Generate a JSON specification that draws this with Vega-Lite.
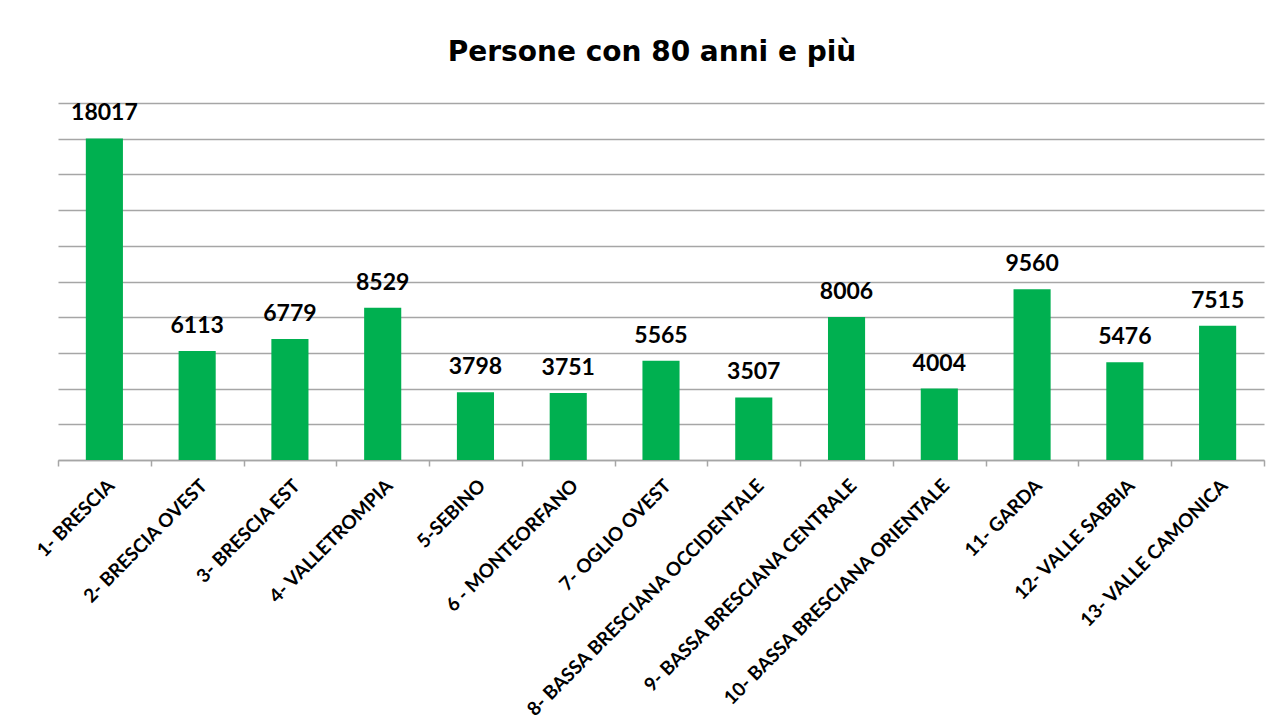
{
  "$schema": "https://vega.github.io/schema/vega-lite/v6.json",
  "autosize": {"type": "none"},
  "width": 1206,
  "height": 357,
  "padding": {"left": 58, "top": 103, "right": 18, "bottom": 264},
  "background": "white",
  "title": {
    "text": "Persone con 80 anni e più",
    "font": "DejaVu Sans",
    "fontSize": 28,
    "fontWeight": "bold",
    "color": "#000000",
    "anchor": "middle",
    "dx": -9,
    "offset": 35
  },
  "data": {
    "values": [
      {"zona": "1- BRESCIA", "valore": 18017},
      {"zona": "2- BRESCIA OVEST", "valore": 6113},
      {"zona": "3- BRESCIA EST", "valore": 6779},
      {"zona": "4- VALLETROMPIA", "valore": 8529},
      {"zona": "5-SEBINO", "valore": 3798},
      {"zona": "6 - MONTEORFANO", "valore": 3751},
      {"zona": "7- OGLIO OVEST", "valore": 5565},
      {"zona": "8- BASSA BRESCIANA OCCIDENTALE", "valore": 3507},
      {"zona": "9- BASSA BRESCIANA CENTRALE", "valore": 8006},
      {"zona": "10- BASSA BRESCIANA ORIENTALE", "valore": 4004},
      {"zona": "11- GARDA", "valore": 9560},
      {"zona": "12- VALLE SABBIA", "valore": 5476},
      {"zona": "13- VALLE CAMONICA", "valore": 7515}
    ]
  },
  "encoding": {
    "x": {
      "field": "zona",
      "type": "nominal",
      "sort": null,
      "scale": {"paddingInner": 0, "paddingOuter": 0},
      "axis": {
        "title": null,
        "tickBand": "extent",
        "labelAngle": -45,
        "labelFont": "Lato",
        "labelFontSize": 19,
        "labelFontWeight": "bold",
        "labelColor": "#000000",
        "labelLimit": 500,
        "labelPadding": 10,
        "tickSize": 6,
        "tickColor": "#A6A6A6",
        "tickWidth": 1.5,
        "domainColor": "#A6A6A6",
        "domainWidth": 1.5,
        "grid": false
      }
    },
    "y": {
      "field": "valore",
      "type": "quantitative",
      "scale": {"domain": [0, 20000], "nice": false},
      "axis": {
        "title": null,
        "labels": false,
        "ticks": false,
        "domain": false,
        "grid": true,
        "gridColor": "#A6A6A6",
        "gridWidth": 1.5,
        "values": [0, 2000, 4000, 6000, 8000, 10000, 12000, 14000, 16000, 18000, 20000]
      }
    }
  },
  "layer": [
    {
      "mark": {"type": "bar", "color": "#00B050", "width": {"band": 0.4}}
    },
    {
      "mark": {
        "type": "text",
        "font": "Lato",
        "fontSize": 23,
        "fontWeight": "bold",
        "color": "#000000",
        "baseline": "alphabetic",
        "dy": -18
      },
      "encoding": {"text": {"field": "valore", "type": "quantitative", "format": "d"}}
    }
  ],
  "config": {"view": {"stroke": null}}
}
